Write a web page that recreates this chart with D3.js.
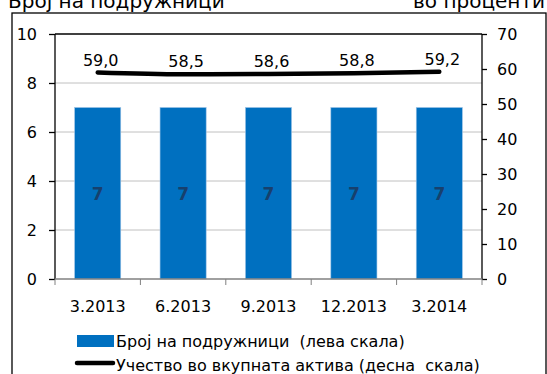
<!DOCTYPE html>
<html>
<head>
<meta charset="utf-8">
<script src="https://cdn.jsdelivr.net/npm/d3@7"></script>
<style>
  html, body { margin: 0; padding: 0; background: #fff; }
  svg { display: block; font-family: "DejaVu Sans", Verdana, sans-serif; }
  .keep-spaces { white-space: pre; }
</style>
</head>
<body>
<svg id="chart" width="547" height="374"></svg>
<script>
// Quarters shown on the x axis
const categories = ["3.2013", "6.2013", "9.2013", "12.2013", "3.2014"];
// Number of branches (left scale)
const branches = [7, 7, 7, 7, 7];
// Share in total assets, percent (right scale)
const shareOfAssets = [59.0, 58.5, 58.6, 58.8, 59.2];
// Axis ticks
const leftTicks = [0, 2, 4, 6, 8, 10];
const rightTicks = [0, 10, 20, 30, 40, 50, 60, 70];
// Text
const titleLeft = "Број на подружници";
const titleRight = "во проценти";
const legendBars = "Број на подружници  (лева скала)";
const legendLine = "Учество во вкупната актива (десна  скала)";

const svg = d3.select("#chart");
const plot = { left: 55, right: 482, top: 34, bottom: 279 };

const x = d3.scaleBand().domain(categories)
  .range([plot.left, plot.right]).paddingInner(0.46).paddingOuter(0.23);
const yL = d3.scaleLinear().domain([0, 10]).range([plot.bottom, plot.top]);
const yR = d3.scaleLinear().domain([0, 70]).range([plot.bottom, plot.top]);
const fmt = d => d.toFixed(1).replace(".", ",");

// Outer frame
svg.append("rect").attr("x", 12).attr("y", 13).attr("width", 534).attr("height", 380)
  .attr("fill", "none").attr("stroke", "#000").attr("stroke-width", 1.3);

// Axis unit titles, sitting at the very top edge
svg.append("text").attr("x", 8).attr("y", 7.5).attr("font-size", 20).text(titleLeft);
svg.append("text").attr("x", 413).attr("y", 7.5).attr("font-size", 20).text(titleRight);

// Gridlines
svg.append("g").selectAll("line").data(leftTicks.filter(t => t > 0 && t < 10)).join("line")
  .attr("x1", plot.left).attr("x2", plot.right)
  .attr("y1", d => yL(d)).attr("y2", d => yL(d))
  .attr("stroke", "#c0c0c0").attr("stroke-width", 1);
// Top edge of the plot area
svg.append("line").attr("x1", plot.left).attr("x2", plot.right)
  .attr("y1", yL(10)).attr("y2", yL(10)).attr("stroke", "#000").attr("stroke-width", 1.3);

// Bars
svg.append("g").selectAll("rect").data(branches).join("rect")
  .attr("x", (d, i) => x(categories[i]))
  .attr("y", d => yL(d))
  .attr("width", x.bandwidth())
  .attr("height", d => yL(0) - yL(d))
  .attr("fill", "#0070c0")
  .attr("stroke", "#9dc3e6").attr("stroke-width", 0.6);

// Bar value labels
svg.append("g").selectAll("text").data(branches).join("text")
  .attr("x", (d, i) => x(categories[i]) + x.bandwidth() / 2)
  .attr("y", d => (yL(d) + yL(0)) / 2 + 7)
  .attr("text-anchor", "middle").attr("font-size", 17).attr("font-weight", "bold")
  .attr("fill", "#17406d").text(d => d);

// Left axis
const gL = svg.append("g").attr("transform", `translate(${plot.left},0)`)
  .call(d3.axisLeft(yL).tickValues(leftTicks).tickSize(6).tickPadding(12).tickFormat(d3.format("d")));
// Right axis
const gR = svg.append("g").attr("transform", `translate(${plot.right},0)`)
  .call(d3.axisRight(yR).tickValues(rightTicks).tickSize(5).tickPadding(10).tickFormat(d3.format("d")));
[gL, gR].forEach(g => {
  g.select(".domain").attr("stroke", "#000").attr("stroke-width", 1.3)
    .attr("d", `M0,${plot.top}V${plot.bottom}`);
  g.selectAll(".tick line").attr("stroke", "#000").attr("stroke-width", 1.3);
  g.selectAll(".tick text").attr("font-size", 16).attr("fill", "#000")
    .attr("font-family", "DejaVu Sans, Verdana, sans-serif");
});

// Bottom axis: gray baseline, ticks between categories
const gX = svg.append("g").attr("transform", `translate(0,${plot.bottom})`);
gX.append("line").attr("x1", plot.left).attr("x2", plot.right)
  .attr("stroke", "#808080").attr("stroke-width", 1.3);
const boundaries = categories.map(c => x(c) - x.step() * x.paddingInner() / 2).concat([plot.right]);
boundaries[0] = plot.left;
gX.selectAll("line.tk").data(boundaries).join("line").attr("class", "tk")
  .attr("x1", d => d).attr("x2", d => d).attr("y1", 0).attr("y2", 6)
  .attr("stroke", "#808080").attr("stroke-width", 1);
gX.selectAll("text").data(categories).join("text")
  .attr("x", d => x(d) + x.bandwidth() / 2).attr("y", 33)
  .attr("text-anchor", "middle").attr("font-size", 16).text(d => d);

// Share line (right scale)
const cx = i => x(categories[i]) + x.bandwidth() / 2;
svg.append("path").datum(shareOfAssets)
  .attr("d", d3.line().x((d, i) => cx(i)).y(d => yR(d)).curve(d3.curveMonotoneX))
  .attr("fill", "none").attr("stroke", "#000").attr("stroke-width", 4.5)
  .attr("stroke-linecap", "round");
svg.append("g").selectAll("text").data(shareOfAssets).join("text")
  .attr("x", (d, i) => cx(i) + 3).attr("y", d => yR(d) - 7)
  .attr("text-anchor", "middle").attr("font-size", 16).text(fmt);

// Legend
svg.append("rect").attr("x", 77).attr("y", 335).attr("width", 37).attr("height", 12)
  .attr("fill", "#0070c0");
svg.append("text").attr("class", "keep-spaces").attr("x", 116).attr("y", 347)
  .attr("font-size", 16).text(legendBars);
svg.append("line").attr("x1", 77).attr("x2", 113).attr("y1", 363).attr("y2", 363)
  .attr("stroke", "#000").attr("stroke-width", 4.5).attr("stroke-linecap", "round");
svg.append("text").attr("class", "keep-spaces").attr("x", 116).attr("y", 371)
  .attr("font-size", 16).text(legendLine);
</script>
</body>
</html>
